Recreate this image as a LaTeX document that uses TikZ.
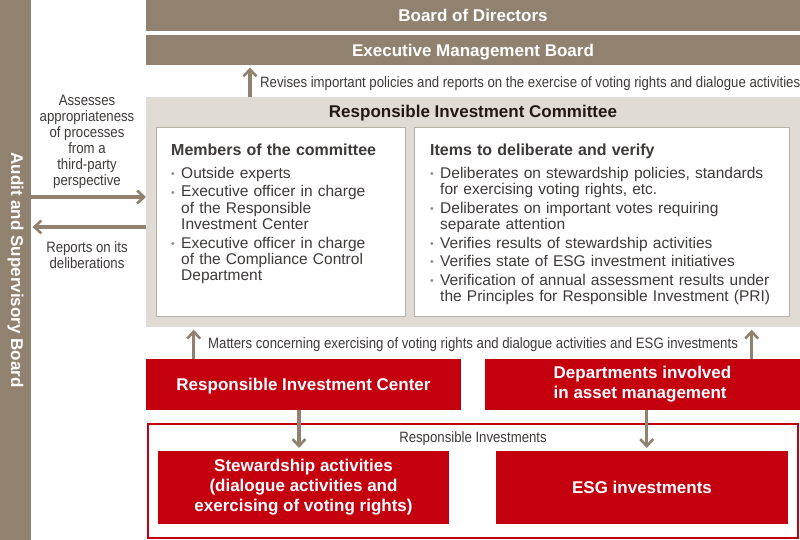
\documentclass[tikz,border=0pt]{standalone}
\usepackage{fontspec}
\setmainfont{Liberation Sans}
\newfontfamily\notefont[FakeStretch=0.88]{Liberation Sans}
\usetikzlibrary{arrows.meta,positioning}

\newcommand{\listhead}[1]{{\bfseries\fontsize{16}{16.3}\selectfont #1}}
\newcommand{\bitem}[1]{\par\vspace{2.2pt}\noindent\hangindent=10pt\hangafter=1%
  \makebox[10pt][l]{\textcolor{dot_color}{\raisebox{0.6pt}{\fontsize{10.5}{10}\selectfont\textbullet}}}#1\par}

\begin{document}
\begin{tikzpicture}[
    x=1pt, y=-1pt, % pixel grid of the page
    >={Straight Barb[length=7pt,width=13pt,line width=2.6pt]},
    bar style/.style={fill=board_color, text=white, inner sep=0pt, outer sep=0pt,
        text height=12.2pt, text depth=0pt, font=\bfseries\fontsize{17}{20}\selectfont},
    red style/.style={fill=red_color, text=white, inner sep=0pt, outer sep=0pt,
        align=center, font=\bfseries\fontsize{17}{20}\selectfont},
    one line/.style={text height=12.2pt, text depth=0pt},
    panel style/.style={fill=white, draw=frame_color, line width=1pt, inner sep=0pt, outer sep=0pt},
    list style/.style={text=text_color, inner sep=0pt, font=\fontsize{15.5}{16.3}\selectfont,
        execute at begin node={\setlength{\parskip}{0pt}}},
    note style/.style={text=text_color, inner sep=0pt, font=\notefont\fontsize{15}{16}\selectfont},
    flow/.style={->, draw=board_color, line width=3.4pt}
]

% --- 1. SETTINGS & COLORS ---
\definecolor{board_color}{RGB}{145,130,112}
\definecolor{committee_color}{RGB}{224,220,213}
\definecolor{frame_color}{RGB}{185,177,166}
\definecolor{red_color}{RGB}{196,0,15}
\definecolor{text_color}{RGB}{62,58,57}
\definecolor{title_color}{RGB}{35,24,21}
\definecolor{dot_color}{RGB}{150,140,128}

\useasboundingbox (0,0) rectangle (800,540);

% --- 2. BOARDS ---
\node[bar style, minimum width=31pt, minimum height=540pt, anchor=north west] (audit) at (0,0) {};
\node[rotate=-90, text=white, inner sep=0pt, font=\bfseries\fontsize{17}{20}\selectfont]
    (audittext) at (audit.center) {Audit and Supervisory Board};
\node[bar style, minimum width=654pt, minimum height=31pt, anchor=north west] (board) at (146,0) {Board of Directors};
\node[bar style, minimum width=654pt, minimum height=30.5pt, anchor=north west] (exec) at (146,35) {Executive Management Board};

% --- 3. COMMITTEE ---
\node[fill=committee_color, inner sep=0pt, outer sep=0pt, minimum width=654pt, minimum height=230pt,
    anchor=north west] (committee) at (146,97) {};
\node[text=title_color, inner sep=0pt, anchor=base, font=\bfseries\fontsize{17}{20}\selectfont]
    (committeetitle) at (473,118) {Responsible Investment Committee};

\node[panel style, minimum width=249pt, minimum height=189pt, anchor=north west] (members) at (156.5,127.5) {};
\node[panel style, minimum width=375pt, minimum height=189pt, anchor=north west] (items) at (414.5,127.5) {};

\node[list style, text width=235pt, below right=14.5pt and 14.5pt of members.north west] (memberslist) {%
    \noindent\rule{0pt}{13pt}\listhead{Members of the committee}\par\vspace{4.8pt}
    \bitem{Outside experts}
    \bitem{Executive officer in charge\newline of the Responsible\newline Investment Center}
    \bitem{Executive officer in charge\newline of the Compliance Control\newline Department}};

\node[list style, text width=355pt, below right=14.5pt and 15.5pt of items.north west] (itemslist) {%
    \noindent\rule{0pt}{13pt}\listhead{Items to deliberate and verify}\par\vspace{4.8pt}
    \bitem{Deliberates on stewardship policies, standards\newline for exercising voting rights, etc.}
    \bitem{Deliberates on important votes requiring\newline separate attention}
    \bitem{Verifies results of stewardship activities}
    \bitem{Verifies state of ESG investment initiatives}
    \bitem{Verification of annual assessment results under\newline the Principles for Responsible Investment (PRI)}};

% --- 4. DEPARTMENTS ---
\node[red style, one line, minimum width=315pt, minimum height=51pt, anchor=north west] (center) at (146,359) {Responsible Investment Center};
\node[red style, align=left, minimum width=315pt, minimum height=51pt, anchor=north west] (dept) at (485,359) {Departments involved\\in asset management};

\node[draw=red_color, line width=2pt, inner sep=0pt, outer sep=0pt, minimum width=650pt, minimum height=114pt,
    anchor=north west] (responsible) at (147.5,423.5) {};
\node[note style, anchor=base] (responsiblelabel) at (473,442.1) {Responsible Investments};

\node[red style, minimum width=291pt, minimum height=73pt, anchor=north west] (steward) at (158,451) {Stewardship activities\\(dialogue activities and\\exercising of voting rights)};
\node[red style, one line, minimum width=292pt, minimum height=73pt, anchor=north west] (esg) at (496,451) {ESG investments};

% --- 5. NOTES ---
\node[note style, align=center, anchor=north] (assessnote) at (87,93)
    {\rule{0pt}{12pt}Assesses\\appropriateness\\of processes\\from a\\third-party\\perspective};
\node[note style, align=center, anchor=north] (reportnote) at (87,240.4)
    {\rule{0pt}{12pt}Reports on its\\deliberations};
\node[note style, anchor=base west] (revisenote) at (260,87.1)
    {Revises important policies and reports on the exercise of voting rights and dialogue activities};
\node[note style, anchor=base west] (mattersnote) at (208,348.7)
    {Matters concerning exercising of voting rights and dialogue activities and ESG investments};

% --- 6. ARROWS ---
\coordinate (assessY) at (0,197);
\coordinate (reportY) at (0,227);
\coordinate (reviseX) at (250,0);
\coordinate (leftupX) at (193.7,0);
\coordinate (rightupX) at (751.7,0);
\coordinate (leftdownX) at (299,0);
\coordinate (rightdownX) at (646.7,0);

\draw[flow] (audit.east |- assessY) -- (committee.west |- assessY);
\draw[flow, shorten >=1.5pt] (committee.west |- reportY) -- (audit.east |- reportY);
\draw[flow, shorten >=2pt] (committee.north -| reviseX) -- (exec.south -| reviseX);
\draw[flow, shorten >=2.7pt] (center.north -| leftupX) -- (committee.south -| leftupX);
\draw[flow, shorten >=2.7pt] (dept.north -| rightupX) -- (committee.south -| rightupX);
\draw[flow, shorten >=3pt] (center.south -| leftdownX) -- (steward.north -| leftdownX);
\draw[flow, shorten >=3pt] (dept.south -| rightdownX) -- (esg.north -| rightdownX);

\end{tikzpicture}
\end{document}
